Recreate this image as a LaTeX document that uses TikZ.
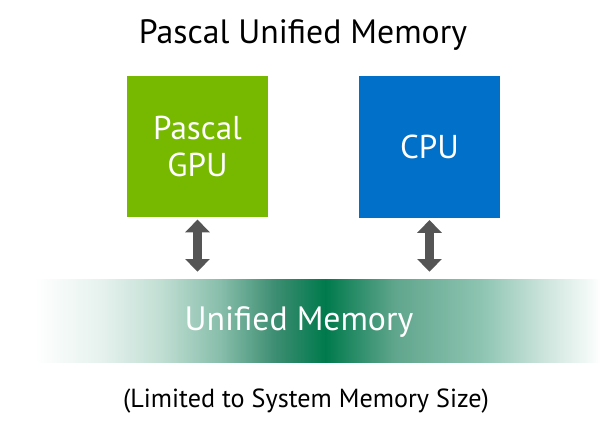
\documentclass[tikz,border=0pt]{standalone}
\usepackage{fontspec}
\setmainfont{PT Sans}
\usetikzlibrary{arrows.meta}
\definecolor{pascalgreen}{HTML}{76B900}
\definecolor{cpublue}{HTML}{0070C8}
\definecolor{memgreen}{HTML}{007A4D}
\definecolor{arrowgray}{HTML}{555555}
\definecolor{memA}{HTML}{E6F2EE}
\definecolor{memB}{HTML}{C2DFD4}
\definecolor{memC}{HTML}{88BEAB}
\definecolor{memD}{HTML}{3C8D71}
\definecolor{memE}{HTML}{5FA58C}
\definecolor{memF}{HTML}{8DC4B1}
\definecolor{memG}{HTML}{C8E2D9}
\definecolor{memH}{HTML}{F4FAF8}
\pgfdeclarehorizontalshading{memshade}{100bp}{%
  color(0bp)=(white); color(25bp)=(white); color(27.2bp)=(white);
  color(32.8bp)=(memA); color(37.8bp)=(memB);
  color(42.9bp)=(memC); color(47.6bp)=(memD);
  color(51.8bp)=(memgreen); color(57.6bp)=(memE);
  color(64.9bp)=(memF); color(69.9bp)=(memG);
  color(74.2bp)=(memH); color(75bp)=(white); color(100bp)=(white)}
\tikzset{
  chip/.style={minimum width=3.54cm, minimum height=3.54cm, inner sep=0pt,
    text=white, font=\fontsize{23.5}{26.5}\selectfont, align=center},
  dblarrow/.style={arrowgray, line width=6.4pt,
    {Triangle[width=17pt,length=9pt]}-{Triangle[width=17pt,length=9pt]}}
}
\begin{document}
\begin{tikzpicture}[x=0.025cm,y=-0.025cm]
        \useasboundingbox (0,0) rectangle (600,426);
        \node (title) at (303,35) {\fontsize{24}{27}\selectfont Pascal Unified Memory};

        \node[chip, fill=pascalgreen] (gpu) at (197.5,146.5) {Pascal\\GPU};
        \node[chip, fill=cpublue] (cpu) at (429.5,147) {CPU};

        \node[minimum width=14.8cm, minimum height=2.05cm, inner sep=0pt,
          shading=memshade] (mem) at (304,321) {};
        \node[text=white, font=\fontsize{24}{27}\selectfont] (memlabel) at (299,322) {Unified Memory};

        \draw[dblarrow, shorten <=0.05cm, shorten >=0.2cm] (gpu.south) -- (gpu.south |- mem.north);
        \draw[dblarrow, shorten <=0.05cm, shorten >=0.2cm] (cpu.south) -- (cpu.south |- mem.north);

        \node (note) at (306,401) {\fontsize{18.6}{22}\selectfont (Limited to System Memory Size)};
\end{tikzpicture}
\end{document}
